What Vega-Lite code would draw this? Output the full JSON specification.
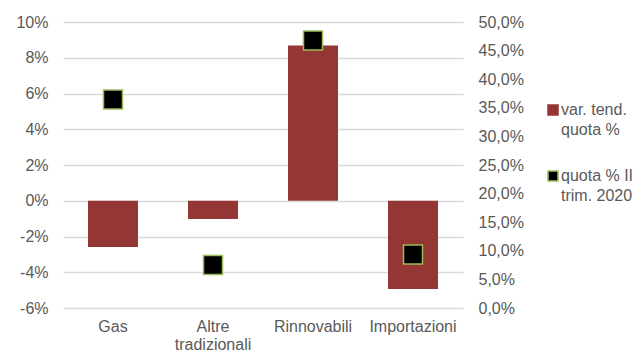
{
  "$schema": "https://vega.github.io/schema/vega-lite/v6.json",
  "autosize": {"type": "none"},
  "width": 400,
  "height": 286,
  "padding": {"left": 63, "top": 22, "right": 172, "bottom": 46},
  "background": "white",
  "config": {
    "locale": {"number": {"decimal": ",", "thousands": ".", "grouping": [3], "currency": ["€", ""], "minus": "-"}},
    "font": "Liberation Sans",
    "view": {"stroke": null},
    "axis": {"labelFont": "Liberation Sans", "labelFontSize": 16, "labelColor": "#595959", "ticks": false, "domain": false, "title": null}
  },
  "data": {
    "values": [
      {"cat": "Gas", "var": -0.0259, "quota": 0.3645},
      {"cat": "Altre tradizionali", "var": -0.0102, "quota": 0.075},
      {"cat": "Rinnovabili", "var": 0.0869, "quota": 0.4677},
      {"cat": "Importazioni", "var": -0.0494, "quota": 0.0935}
    ]
  },
  "encoding": {
    "x": {
      "field": "cat", "type": "nominal", "sort": null,
      "scale": {"paddingInner": 0.5, "paddingOuter": 0.25},
      "axis": {"labelAngle": 0, "labelPadding": 10, "labelLineHeight": 18, "labelExpr": "datum.value == 'Altre tradizionali' ? ['Altre', 'tradizionali'] : datum.value"}
    }
  },
  "layer": [
    {
      "mark": {"type": "bar", "color": "#943634"},
      "encoding": {
        "y": {
          "field": "var", "type": "quantitative",
          "scale": {"domain": [-0.06, 0.1], "nice": false, "zero": false},
          "axis": {"values": [-0.06, -0.04, -0.02, 0, 0.02, 0.04, 0.06, 0.08, 0.1], "format": ".0%", "grid": true, "gridColor": "#d9d9d9", "gridWidth": 1.3, "labelPadding": 15}
        },
        "color": {
          "datum": "var. tend. quota %",
          "type": "nominal",
          "scale": {"domain": ["var. tend. quota %", "quota % II trim. 2020"], "range": ["#943634", "#000000"]},
          "legend": {
            "orient": "none", "legendX": 482, "legendY": 80,
            "title": null, "symbolType": "square", "symbolSize": 100, "symbolOpacity": 1,
            "symbolStrokeWidth": 1.5,
            "labelFont": "Liberation Sans", "labelFontSize": 16, "labelColor": "#595959",
            "labelLimit": 300, "rowPadding": 30, "labelOffset": 0,
            "labelExpr": "datum.value == 'var. tend. quota %' ? ['var. tend.', 'quota %'] : ['quota % II', 'trim. 2020']",
            "encode": {
              "symbols": {"update": {"stroke": {"signal": "datum.value == 'quota % II trim. 2020' ? '#9bbb59' : '#943634'"}}},
              "labels": {"update": {"lineHeight": {"value": 20}}}
            }
          }
        }
      }
    },
    {
      "mark": {"type": "point", "shape": "square", "filled": true, "size": 361, "fill": "#000000", "stroke": "#9bbb59", "strokeWidth": 1.5, "opacity": 1},
      "encoding": {
        "y": {
          "field": "quota", "type": "quantitative",
          "scale": {"domain": [0, 0.5], "nice": false},
          "axis": {"orient": "right", "values": [0, 0.05, 0.1, 0.15, 0.2, 0.25, 0.3, 0.35, 0.4, 0.45, 0.5], "format": ".1%", "grid": false, "labelPadding": 15}
        },
        "color": {"datum": "quota % II trim. 2020", "type": "nominal"}
      }
    }
  ],
  "resolve": {"scale": {"y": "independent"}}
}
